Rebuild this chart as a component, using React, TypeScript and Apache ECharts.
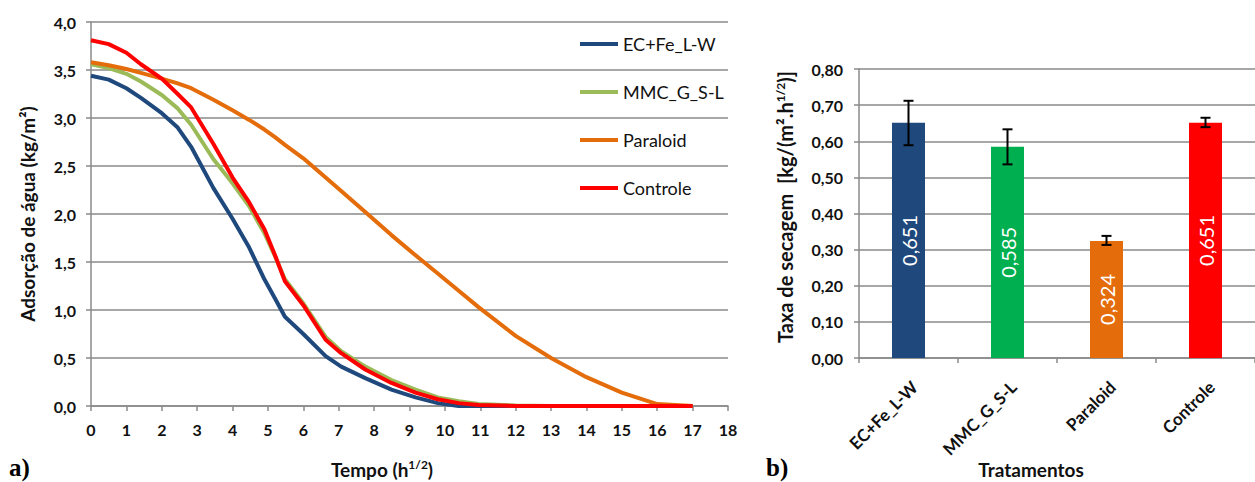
import React, { useEffect, useRef } from "react";
import * as echarts from "echarts";

// ---- Chart a) water absorption curves ----
const times = [0, 0.5, 1, 1.41, 2, 2.45, 2.83, 3.46, 4, 4.47, 4.9, 5.2, 5.48, 6, 6.63, 7.07, 7.75, 8.49, 9.17, 9.8, 10.39, 10.95, 12, 13, 14, 15, 16, 17];
const ecFe = [3.44, 3.4, 3.31, 3.21, 3.05, 2.9, 2.7, 2.27, 1.95, 1.65, 1.32, 1.12, 0.93, 0.75, 0.52, 0.41, 0.29, 0.17, 0.09, 0.03, 0.0, 0, 0, 0, 0, 0, 0, 0];
const mmc = [3.56, 3.52, 3.46, 3.38, 3.24, 3.1, 2.93, 2.57, 2.32, 2.08, 1.8, 1.56, 1.32, 1.07, 0.72, 0.57, 0.41, 0.27, 0.17, 0.09, 0.05, 0.02, 0.005, 0, 0, 0, 0, 0];
const paraloid = [3.58, 3.55, 3.51, 3.47, 3.41, 3.36, 3.31, 3.19, 3.08, 2.98, 2.88, 2.8, 2.72, 2.58, 2.38, 2.24, 2.02, 1.78, 1.57, 1.38, 1.2, 1.03, 0.73, 0.5, 0.3, 0.14, 0.02, 0];
const controle = [3.81, 3.77, 3.68, 3.56, 3.41, 3.25, 3.11, 2.73, 2.38, 2.12, 1.84, 1.57, 1.3, 1.05, 0.69, 0.55, 0.38, 0.24, 0.14, 0.07, 0.03, 0.01, 0, 0, 0, 0, 0, 0];
const seriesNames = ["EC+Fe_L-W", "MMC_G_S-L", "Paraloid", "Controle"];
const lineColors = ["#1F497D", "#9BBB59", "#E46C0A", "#FF0000"];

// ---- Chart b) drying rate ----
const treatments = ["EC+Fe_L-W", "MMC_G_S-L", "Paraloid", "Controle"];
const dryingRate = [0.651, 0.585, 0.324, 0.651];
const errLow = [0.589, 0.536, 0.313, 0.639];
const errHigh = [0.712, 0.633, 0.338, 0.665];
const barColors = ["#1F497D", "#00B050", "#E46C0A", "#FF0000"];

const FONT = "Lato, 'Open Sans', sans-serif";
const GRID = "#8a8a8a";

export default function App() {
  const ref = useRef<HTMLDivElement>(null);
  useEffect(() => {
    document.body.style.margin = "0";
    const chart = echarts.init(ref.current!, null, { renderer: "svg" });
    const lineSets = [ecFe, mmc, paraloid, controle];
    const axisCommon = {
      axisLine: { show: true, lineStyle: { color: GRID, width: 1.5 } },
      axisTick: { show: true, length: 5, lineStyle: { color: GRID, width: 1.5 } },
      splitLine: { show: false },
    };
    const titleStyle = (text: string, size: number) => ({
      text,
      rich: { s: { fontSize: Math.round(size * 0.62), fontWeight: "bold", fontFamily: FONT, padding: [0, 0, 9, 0] } },
      fontSize: size,
      fontWeight: "bold",
      fontFamily: FONT,
      fill: "#111",
      align: "center",
      verticalAlign: "middle",
      textAlign: "center",
      textVerticalAlign: "middle",
    });
    chart.setOption({
      animation: false,
      textStyle: { fontFamily: FONT },
      grid: [
        { left: 91, right: 527, top: 22, bottom: 76 },
        { left: 859, right: -10, top: 69, bottom: 124 },
      ],
      legend: {
        orient: "vertical",
        left: 575,
        top: 29,
        icon: "rect",
        itemWidth: 38,
        itemHeight: 4,
        itemGap: 28,
        data: seriesNames,
        textStyle: { fontSize: 18, color: "#111", fontFamily: FONT, lineHeight: 20 },
      },
      xAxis: [
        {
          gridIndex: 0,
          type: "value",
          min: 0,
          max: 18,
          interval: 1,
          ...axisCommon,
          axisLabel: { fontSize: 16, fontWeight: "bold", color: "#111", margin: 15 },
        },
        {
          gridIndex: 1,
          type: "category",
          data: treatments,
          ...axisCommon,
          axisTick: { show: true, length: 5, alignWithLabel: false, lineStyle: { color: GRID, width: 1.5 } },
          axisLabel: {
            fontSize: 17,
            fontWeight: "bold",
            color: "#111",
            rotate: 45,
            margin: 20,
            interval: 0,
            verticalAlign: "top",
          },
        },
      ],
      yAxis: [
        {
          gridIndex: 0,
          type: "value",
          min: 0,
          max: 4,
          interval: 0.5,
          ...axisCommon,
          splitLine: { show: true, lineStyle: { color: GRID, width: 1.5 } },
          axisLabel: {
            fontSize: 16,
            fontWeight: "bold",
            color: "#111",
            margin: 15,
            formatter: (v: number) => v.toFixed(1).replace(".", ","),
          },
        },
        {
          gridIndex: 1,
          type: "value",
          min: 0,
          max: 0.8,
          interval: 0.1,
          ...axisCommon,
          splitLine: { show: true, lineStyle: { color: GRID, width: 1.5 } },
          axisLabel: {
            fontSize: 16,
            fontWeight: "bold",
            color: "#111",
            margin: 16,
            formatter: (v: number) => v.toFixed(2).replace(".", ","),
          },
        },
      ],
      series: [
        ...lineSets.map((vals, si) => ({
          name: seriesNames[si],
          type: "line",
          xAxisIndex: 0,
          yAxisIndex: 0,
          data: times.map((t, i) => [t, vals[i]]),
          showSymbol: false,
          symbol: "none",
          smooth: false,
          lineStyle: { color: lineColors[si], width: 4, join: "round" },
          itemStyle: { color: lineColors[si] },
        })),
        {
          name: "bars",
          type: "bar",
          xAxisIndex: 1,
          yAxisIndex: 1,
          barWidth: 33,
          data: dryingRate.map((v, i) => ({ value: v, itemStyle: { color: barColors[i] } })),
          label: {
            show: true,
            position: "inside",
            rotate: 90,
            color: "#fff",
            fontSize: 20,
            fontFamily: FONT,
            formatter: (p: any) => Number(p.value).toFixed(3).replace(".", ","),
          },
        },
        {
          name: "err",
          type: "custom",
          xAxisIndex: 1,
          yAxisIndex: 1,
          data: treatments.map((_, i) => [i, errLow[i], errHigh[i]]),
          encode: { x: 0, y: [1, 2] },
          z: 10,
          renderItem: (params: any, api: any) => {
            const x = api.value(0);
            const lo = api.coord([x, api.value(1)]);
            const hi = api.coord([x, api.value(2)]);
            const h = 5;
            const st = { stroke: "#000", lineWidth: 2 };
            return {
              type: "group",
              children: [
                { type: "line", shape: { x1: hi[0], y1: hi[1], x2: lo[0], y2: lo[1] }, style: st },
                { type: "line", shape: { x1: hi[0] - h, y1: hi[1], x2: hi[0] + h, y2: hi[1] }, style: st },
                { type: "line", shape: { x1: lo[0] - h, y1: lo[1], x2: lo[0] + h, y2: lo[1] }, style: st },
              ],
            };
          },
        },
      ],
      graphic: [
        { type: "text", x: 27, y: 214, rotation: Math.PI / 2, style: titleStyle("Adsorção de água (kg/m²)", 19) },
        { type: "text", x: 382, y: 469, style: titleStyle("Tempo (h{s|1/2})", 19) },
        { type: "text", x: 785, y: 207, rotation: Math.PI / 2, style: titleStyle("Taxa de secagem  [kg/(m².h{s|1/2})]", 20) },
        { type: "text", x: 1031, y: 469, style: titleStyle("Tratamentos", 19) },
        {
          type: "text",
          x: 9,
          y: 467,
          style: {
            text: "a)",
            fontSize: 25,
            fontWeight: "bold",
            fontFamily: "'Liberation Serif', 'DejaVu Serif', serif",
            fill: "#000",
            align: "left",
            verticalAlign: "middle",
            textAlign: "left",
            textVerticalAlign: "middle",
          },
        },
        {
          type: "text",
          x: 766,
          y: 467,
          style: {
            text: "b)",
            fontSize: 25,
            fontWeight: "bold",
            fontFamily: "'Liberation Serif', 'DejaVu Serif', serif",
            fill: "#000",
            align: "left",
            verticalAlign: "middle",
            textAlign: "left",
            textVerticalAlign: "middle",
          },
        },
      ],
    });
    return () => chart.dispose();
  }, []);
  return <div ref={ref} style={{ width: 1255, height: 482 }} />;
}
